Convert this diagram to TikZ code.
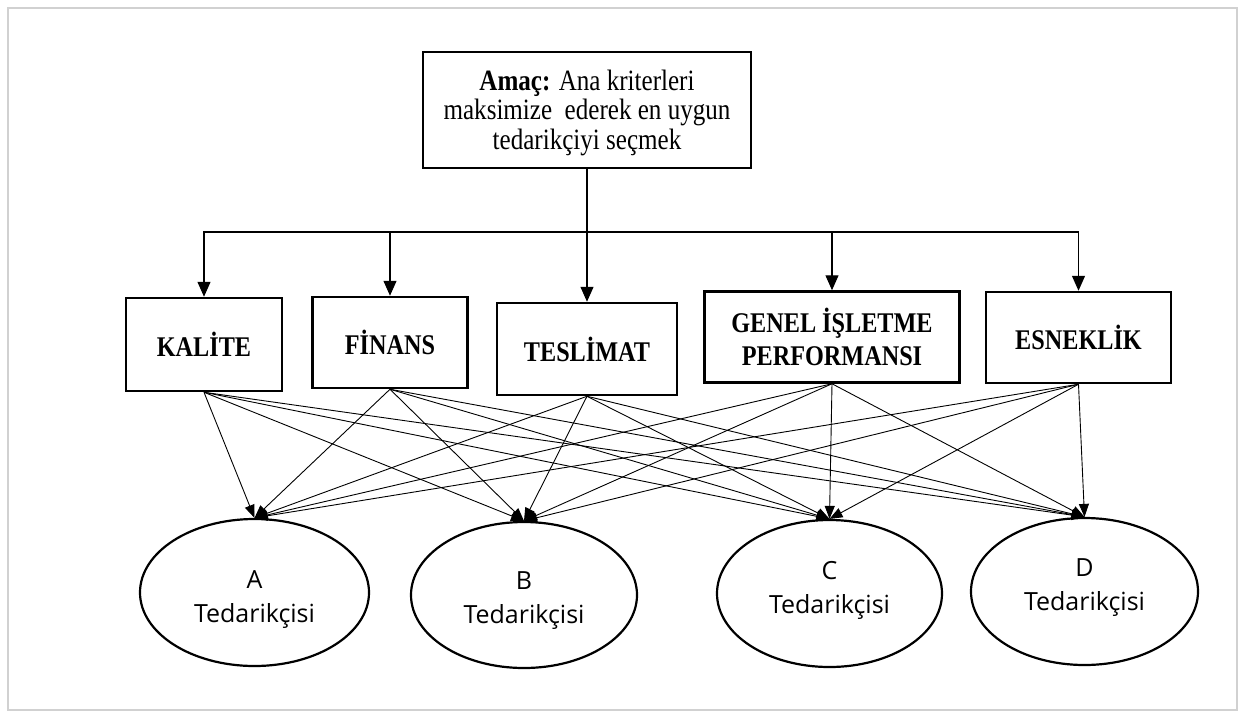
\documentclass[tikz,border=0pt]{standalone}
\usepackage{fontspec}
\setmainfont{Liberation Serif}
\newfontfamily\tallserif[FakeStretch=0.85]{Liberation Serif}
\newfontfamily\ellfont{Open Sans}
\usetikzlibrary{arrows.meta,shapes.geometric}
\begin{document}
\begin{tikzpicture}[x=1pt,y=-1pt,
  goalbox/.style={draw,line width=2.5pt,align=center,inner sep=0pt,
    font=\tallserif\fontsize{29.5}{29}\selectfont},
  crit/.style={draw,line width=2.5pt,align=center,inner sep=0pt,
    font=\tallserif\fontsize{28.5}{33}\selectfont\bfseries},
  supp/.style={draw,ellipse,line width=2.2pt,align=center,inner sep=0pt,
    font=\ellfont\fontsize{25}{34}\selectfont},
  feed/.style={line width=1.3pt,-{Triangle[length=15pt,width=13pt]}},
  trunk/.style={line width=1.3pt},
  link/.style={line width=0.9pt,-{Triangle[length=13pt,width=10pt]}}]
\path[use as bounding box] (0,0) rectangle (1245,718);
\draw[line width=1.5pt,black!18] (8,8) rectangle (1237,710);

\node[goalbox,minimum width=328,minimum height=116] (goal) at (587,110)
  {\raisebox{-4pt}[\height][\depth]{\begin{tabular}{@{}c@{}}\textbf{Amaç:} Ana kriterleri\\maksimize\ \ ederek en uygun\\tedarikçiyi seçmek\end{tabular}}};

\node[crit,minimum width=156,minimum height=93] (kalite) at (204,344.5) {KALİTE};
\node[crit,minimum width=155,minimum height=91] (finans) at (390,342.5) {FİNANS};
\node[crit,minimum width=180,minimum height=92] (teslimat) at (587,349) {TESLİMAT};
\node[crit,minimum width=255,minimum height=91] (genel) at (832,337) {GENEL İŞLETME\\PERFORMANSI};
\node[crit,minimum width=185,minimum height=91] (esnek) at (1078.5,337.5) {ESNEKLİK};

\node[supp,minimum width=229,minimum height=147] (A) at (254.5,592.5)
  {\raisebox{-6pt}[\height][\depth]{\begin{tabular}{@{}c@{}}A\\Tedarikçisi\end{tabular}}};
\node[supp,minimum width=226,minimum height=146] (B) at (524,595)
  {\raisebox{-5pt}[\height][\depth]{\begin{tabular}{@{}c@{}}B\\Tedarikçisi\end{tabular}}};
\node[supp,minimum width=225,minimum height=147] (C) at (829.5,593.5)
  {\raisebox{4pt}[\height][\depth]{\begin{tabular}{@{}c@{}}C\\Tedarikçisi\end{tabular}}};
\node[supp,minimum width=227,minimum height=147] (D) at (1084.5,591.5)
  {\raisebox{5pt}[\height][\depth]{\begin{tabular}{@{}c@{}}D\\Tedarikçisi\end{tabular}}};

\coordinate (j) at (587,232);
\draw[trunk] (goal.south) -- (j);
\foreach \c in {kalite,finans,teslimat,genel,esnek}
  \draw[feed] (j) -| (\c.north);

\foreach \c in {kalite,finans,teslimat,genel,esnek}
  \foreach \s in {A,B,C,D}
    \draw[link] (\c.south) -- (\s.north);
\end{tikzpicture}
\end{document}
